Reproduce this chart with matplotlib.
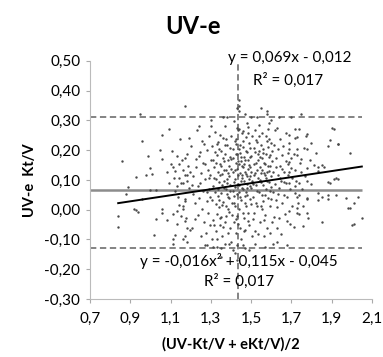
import matplotlib
matplotlib.use("Agg")
import matplotlib.pyplot as plt

plt.rcParams['font.family'] = ['Lato', 'DejaVu Sans']

# Points: (mean of the two methods, difference)
points = [
    # left, sparse
    (1.17, 0.35), (0.95, 0.32), (1.09, 0.27), (1.06, 0.25), (0.96, 0.23), (1.19, 0.24),
    (1.05, 0.20), (0.99, 0.18), (1.06, 0.17), (1.13, 0.18), (1.17, 0.175), (0.86, 0.165),
    (1.10, 0.155), (1.11, 0.145), (1.00, 0.14), (0.98, 0.115), (1.01, 0.12), (1.08, 0.125),
    (1.12, 0.13), (1.16, 0.135), (0.93, 0.11), (1.14, 0.105), (1.18, 0.115), (1.09, 0.09),
    (1.13, 0.08), (1.16, 0.09), (0.89, 0.075), (1.00, 0.067), (1.03, 0.067), (0.88, 0.054),
    (1.17, 0.037), (0.92, 0.003), (0.94, -0.007), (0.84, -0.02), (0.84, -0.057),
    (1.03, -0.03), (1.06, 0.003), (1.06, -0.01), (1.08, -0.034), (1.11, -0.013), (1.13, -0.003),
    (1.15, -0.02), (1.17, -0.037), (1.18, -0.06), (1.02, -0.085), (1.12, -0.085), (1.11, -0.10),
    (1.16, -0.10), (1.17, -0.09), (1.14, 0.017), (1.17, 0.03), (1.16, 0.003), (0.96, 0.037),
    (0.93, 0.0),
    # right, sparse
    (1.75, 0.32), (1.70, 0.31), (1.72, 0.27), (1.74, 0.27), (1.91, 0.27), (1.69, 0.25),
    (1.72, 0.24), (1.73, 0.245), (1.78, 0.255), (1.89, 0.235), (1.80, 0.225), (1.88, 0.215),
    (1.93, 0.22), (1.78, 0.205), (1.69, 0.205), (1.73, 0.205), (1.73, 0.185), (1.82, 0.19),
    (1.99, 0.19), (1.75, 0.17), (1.69, 0.16), (1.70, 0.14), (1.78, 0.14), (1.83, 0.145),
    (1.85, 0.15), (1.81, 0.15), (1.86, 0.145), (1.72, 0.135), (1.75, 0.125), (1.83, 0.13),
    (1.69, 0.125), (1.92, 0.108), (1.93, 0.104), (1.91, 0.104), (1.88, 0.094), (1.78, 0.098),
    (1.74, 0.088), (1.72, 0.08), (1.80, 0.085), (1.69, 0.09), (1.89, 0.088), (1.72, 0.057),
    (1.74, 0.05), (1.83, 0.057), (1.88, 0.05), (1.78, 0.04), (1.92, 0.05), (1.97, 0.04),
    (2.03, 0.044), (1.73, 0.044), (1.78, 0.037), (1.83, 0.034), (1.85, 0.044), (1.88, 0.037),
    (2.01, 0.024), (1.98, 0.007), (2.05, -0.027), (2.01, -0.047), (1.85, -0.04), (1.76, -0.054),
    (1.74, -0.013), (1.78, -0.01), (1.73, -0.01), (1.69, -0.003), (1.73, 0.007), (1.68, -0.037),
    (1.99, 0.007), (2.00, -0.05), (1.90, 0.275), (1.93, 0.22),
    # top of the cloud
    (1.44, 0.37), (1.44, 0.35), (1.55, 0.34), (1.43, 0.34), (1.44, 0.33), (1.36, 0.31),
    (1.50, 0.31), (1.58, 0.32), (1.59, 0.29), (1.24, 0.28), (1.30, 0.28), (1.43, 0.276),
    (1.48, 0.29), (1.63, 0.276), (1.30, 0.30), (1.38, 0.31), (1.47, 0.32), (1.53, 0.31),
    (1.60, 0.30), (1.64, 0.31), (1.58, 0.33),
    # bottom of the cloud
    (1.11, -0.115), (1.18, -0.11), (1.28, -0.118), (1.31, -0.125), (1.39, -0.115), (1.41, -0.135),
    (1.43, -0.12), (1.47, -0.13), (1.61, -0.115), (1.35, -0.16), (1.43, -0.17), (1.35, -0.13),
    (1.27, -0.12), (1.33, -0.125), (1.37, -0.115), (1.46, -0.12), (1.52, -0.115), (1.57, -0.125),
    (1.63, -0.11), (1.68, -0.12), (1.42, -0.145), (1.49, -0.135),
    # 1.10 - 1.20
    (1.106, 0.198), (1.123, 0.062), (1.132, -0.048), (1.144, 0.152), (1.153, 0.088),
    (1.148, 0.238), (1.163, 0.012), (1.172, 0.118), (1.178, -0.028), (1.184, 0.188),
    (1.192, 0.072), (1.188, 0.148), (1.197, -0.068), (1.118, 0.108), (1.139, 0.041),
    (1.158, 0.168), (1.181, 0.097), (1.199, 0.128),
    # 1.20 - 1.30
    (1.203, 0.213), (1.214, 0.052), (1.207, -0.061), (1.226, 0.143), (1.219, 0.021),
    (1.233, 0.268), (1.238, -0.018), (1.244, 0.091), (1.241, 0.182), (1.249, -0.088),
    (1.252, 0.122), (1.258, 0.004), (1.255, 0.231), (1.263, 0.063), (1.267, -0.041),
    (1.261, 0.158), (1.272, 0.103), (1.276, -0.078), (1.279, 0.028), (1.282, 0.201),
    (1.286, 0.132), (1.284, -0.012), (1.293, 0.071), (1.291, 0.248), (1.297, -0.052),
    (1.301, 0.168), (1.296, 0.042), (1.304, -0.098), (1.211, 0.112), (1.236, 0.078),
    (1.247, 0.193), (1.271, 0.152), (1.289, 0.108), (1.222, -0.032), (1.243, 0.038),
    (1.264, 0.221), (1.281, 0.058), (1.298, 0.118), (1.205, 0.083), (1.228, 0.171),
    # 1.30 - 1.40
    (1.306, 0.213), (1.312, 0.078), (1.309, -0.034), (1.318, 0.142), (1.321, 0.262),
    (1.324, 0.018), (1.315, 0.108), (1.327, -0.072), (1.331, 0.183), (1.336, 0.047),
    (1.333, -0.013), (1.338, 0.228), (1.342, 0.094), (1.345, 0.153), (1.347, -0.051),
    (1.341, 0.008), (1.352, 0.198), (1.355, 0.121), (1.349, 0.057), (1.357, -0.088),
    (1.353, -0.024), (1.362, 0.241), (1.364, 0.163), (1.361, 0.027), (1.367, 0.097),
    (1.372, 0.187), (1.374, 0.068), (1.369, -0.043), (1.377, 0.133), (1.371, 0.281),
    (1.382, 0.219), (1.384, 0.003), (1.379, 0.088), (1.386, -0.078), (1.388, 0.148),
    (1.392, 0.038), (1.394, 0.176), (1.391, 0.114), (1.397, -0.062), (1.402, 0.247),
    (1.399, 0.138), (1.404, 0.021), (1.396, 0.083), (1.401, -0.108), (1.313, 0.168),
    (1.322, 0.061), (1.334, 0.127), (1.343, 0.204), (1.356, 0.016), (1.363, -0.058),
    (1.373, 0.012), (1.381, 0.052), (1.393, 0.208), (1.398, 0.171), (1.332, -0.097),
    (1.366, 0.073), (1.344, 0.117), (1.383, 0.124), (1.326, 0.158), (1.389, -0.008),
    (1.308, 0.032), (1.319, 0.193), (1.328, 0.104), (1.337, 0.071), (1.346, 0.252),
    (1.351, 0.147), (1.358, 0.083), (1.368, 0.216), (1.376, -0.021), (1.385, 0.168),
    (1.395, 0.064), (1.316, -0.052), (1.339, 0.031), (1.359, 0.172), (1.378, 0.102),
    (1.387, 0.043), (1.329, 0.222), (1.348, -0.028), (1.365, 0.133), (1.375, 0.236),
    # 1.40 - 1.50
    (1.412, 0.203), (1.408, 0.062), (1.415, -0.041), (1.411, 0.128), (1.414, 0.298),
    (1.423, 0.158), (1.418, 0.013), (1.421, 0.103), (1.426, -0.077), (1.424, 0.238),
    (1.432, 0.188), (1.428, 0.053), (1.435, 0.117), (1.431, -0.022), (1.433, 0.268),
    (1.441, 0.082), (1.438, 0.153), (1.443, -0.063), (1.446, 0.218), (1.442, 0.002),
    (1.452, 0.178), (1.448, 0.033), (1.455, 0.107), (1.451, -0.098), (1.454, 0.259),
    (1.462, 0.143), (1.458, 0.068), (1.464, -0.028), (1.461, 0.211), (1.466, 0.098),
    (1.472, 0.166), (1.468, 0.024), (1.475, 0.243), (1.471, -0.068), (1.474, 0.121),
    (1.482, 0.087), (1.478, 0.193), (1.485, -0.012), (1.481, 0.048), (1.484, 0.277),
    (1.492, 0.151), (1.488, 0.223), (1.495, 0.037), (1.491, -0.053), (1.494, 0.113),
    (1.502, 0.182), (1.498, 0.072), (1.505, -0.087), (1.501, 0.128), (1.504, 0.248),
    (1.416, 0.093), (1.425, 0.187), (1.436, 0.087), (1.445, 0.042), (1.456, 0.147),
    (1.463, 0.176), (1.476, 0.058), (1.483, 0.138), (1.493, 0.078), (1.499, 0.018),
    (1.434, 0.162), (1.453, 0.073), (1.473, 0.198), (1.496, 0.177), (1.413, 0.022),
    (1.444, 0.124), (1.465, -0.072), (1.486, -0.038), (1.422, 0.133), (1.503, 0.097),
    (1.409, 0.173), (1.417, 0.047), (1.427, 0.221), (1.437, -0.047), (1.447, 0.192),
    (1.457, 0.118), (1.467, 0.153), (1.477, 0.014), (1.487, 0.168), (1.497, 0.206),
    (1.419, 0.232), (1.429, 0.137), (1.439, 0.061), (1.449, 0.098), (1.459, 0.231),
    (1.469, 0.127), (1.479, 0.073), (1.489, 0.102), (1.406, -0.017), (1.427, -0.032),
    (1.448, 0.163), (1.468, 0.047), (1.487, 0.258), (1.458, -0.011), (1.438, 0.204),
    (1.418, 0.076), (1.478, 0.113), (1.497, 0.143), (1.442, 0.271), (1.462, 0.263),
    # 1.50 - 1.60
    (1.512, 0.208), (1.508, 0.041), (1.515, 0.118), (1.511, -0.032), (1.522, 0.157),
    (1.518, 0.268), (1.525, 0.083), (1.521, -0.071), (1.532, 0.188), (1.528, 0.012),
    (1.535, 0.107), (1.531, 0.227), (1.542, 0.142), (1.538, 0.058), (1.545, -0.043),
    (1.541, 0.286), (1.552, 0.172), (1.548, 0.092), (1.555, 0.003), (1.551, 0.218),
    (1.562, 0.123), (1.558, 0.028), (1.565, -0.087), (1.561, 0.191), (1.572, 0.247),
    (1.568, 0.152), (1.575, 0.069), (1.571, -0.018), (1.582, 0.212), (1.578, 0.098),
    (1.585, 0.038), (1.581, -0.062), (1.592, 0.183), (1.588, 0.131), (1.595, 0.011),
    (1.591, 0.238), (1.602, 0.162), (1.598, 0.077), (1.605, -0.041), (1.601, 0.112),
    (1.514, 0.153), (1.524, 0.021), (1.534, 0.167), (1.544, 0.101), (1.554, 0.132),
    (1.564, 0.158), (1.574, 0.108), (1.584, 0.147), (1.594, 0.063), (1.604, 0.198),
    (1.536, -0.082), (1.556, 0.051), (1.576, 0.187), (1.596, -0.078), (1.519, 0.122),
    (1.559, 0.082), (1.509, 0.087), (1.517, 0.193), (1.527, 0.133), (1.537, 0.246),
    (1.547, 0.013), (1.557, 0.203), (1.567, 0.117), (1.577, 0.232), (1.587, 0.176),
    (1.597, 0.036), (1.513, -0.012), (1.529, 0.063), (1.543, 0.177), (1.553, 0.258),
    (1.569, 0.048), (1.579, 0.128), (1.589, 0.093), (1.599, 0.223), (1.523, 0.233),
    (1.539, 0.198), (1.563, -0.034), (1.583, 0.271), (1.593, 0.147), (1.549, 0.122),
    # 1.60 - 1.70
    (1.612, 0.218), (1.608, 0.058), (1.615, -0.023), (1.611, 0.128), (1.622, 0.172),
    (1.618, 0.268), (1.625, 0.031), (1.621, 0.087), (1.632, 0.203), (1.628, -0.062),
    (1.635, 0.118), (1.631, 0.008), (1.642, 0.147), (1.638, 0.072), (1.645, 0.236),
    (1.641, -0.028), (1.652, 0.183), (1.648, 0.097), (1.655, 0.022), (1.651, -0.082),
    (1.662, 0.127), (1.658, 0.213), (1.665, 0.048), (1.672, 0.162), (1.668, -0.013),
    (1.675, 0.088), (1.671, 0.258), (1.682, 0.191), (1.678, 0.042), (1.685, 0.118),
    (1.692, 0.068), (1.688, 0.223), (1.695, -0.048), (1.702, 0.107), (1.698, 0.172),
    (1.705, 0.013), (1.624, 0.142), (1.644, 0.108), (1.664, 0.093), (1.684, 0.153),
    (1.634, 0.053), (1.654, 0.137),
    # 1.70 - 1.80
    (1.712, 0.187), (1.723, 0.098), (1.731, 0.023), (1.744, 0.158), (1.752, 0.071),
    (1.763, 0.208), (1.768, 0.112), (1.781, -0.028), (1.792, 0.168), (1.714, -0.058),
    (1.757, 0.012), (1.773, 0.248),
]
x_vals = [p[0] for p in points]
y_vals = [p[1] for p in points]

mean_diff = 0.065
upper_loa = 0.31
lower_loa = -0.13
x_mean = 1.434
fit_x = [0.84, 2.05]
fit_y = [0.022, 0.145]
x_ticks = [0.7, 0.9, 1.1, 1.3, 1.5, 1.7, 1.9, 2.1]
y_ticks = [-0.30, -0.20, -0.10, 0.00, 0.10, 0.20, 0.30, 0.40, 0.50]

fig = plt.figure(figsize=(3.83, 3.57), dpi=100)
ax = fig.add_axes([0.235, 0.1625, 0.736, 0.667])

ax.scatter(x_vals, y_vals, s=3, color="#4a4a4a", linewidths=0, zorder=3)
ax.hlines(mean_diff, 0.7, 2.05, color="#8c8c8c", linewidth=1.8, zorder=2)
ax.hlines([upper_loa, lower_loa], 0.7, 2.05, color="#7a7a7a", linewidth=1.3,
          linestyles=(0, (3.5, 2)), zorder=2)
ax.axvline(x_mean, color="#7a7a7a", linewidth=1.3, linestyle=(0, (3.5, 2)), zorder=2)
ax.plot(fit_x, fit_y, color="black", linewidth=1.4, zorder=4)

ax.text(1.693, 0.508, "y = 0,069x - 0,012", ha="center", va="center", fontsize=11)
ax.text(1.683, 0.435, "R² = 0,017", ha="center", va="center", fontsize=11)
ax.text(1.437, -0.172, "y = -0,016x² + 0,115x - 0,045", ha="center", va="center", fontsize=11)
ax.text(1.44, -0.24, "R² = 0,017", ha="center", va="center", fontsize=11)

ax.set_xlim(0.7, 2.1)
ax.set_ylim(-0.30, 0.50)
ax.set_xticks(x_ticks)
ax.set_xticklabels([f"{t:.1f}".replace(".", ",") for t in x_ticks])
ax.set_yticks(y_ticks)
ax.set_yticklabels([f"{t:.2f}".replace(".", ",") for t in y_ticks])
ax.tick_params(labelsize=11, length=3, color="#aaaaaa", pad=4)
ax.tick_params(axis="x", pad=6)

for side in ["top", "right"]:
    ax.spines[side].set_visible(False)
for side in ["left", "bottom"]:
    ax.spines[side].set_color("#bbbbbb")

ax.set_xlabel("(UV-Kt/V + eKt/V)/2", fontsize=10.5, fontweight="bold", labelpad=8)
ax.set_ylabel("UV-e  Kt/V", fontsize=10.5, fontweight="bold", labelpad=5)
fig.text(0.505, 0.925, "UV-e", ha="center", va="center", fontsize=17, fontweight="bold")

fig.savefig("out.png", dpi=100)
